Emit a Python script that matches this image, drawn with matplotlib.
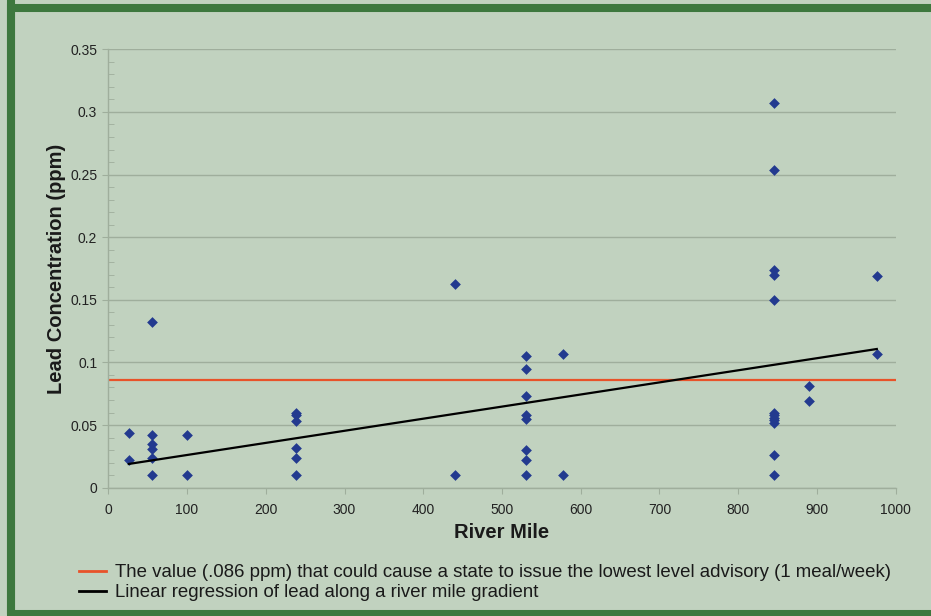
import matplotlib.pyplot as plt
import matplotlib.lines as mlines
from matplotlib.patches import Rectangle
from matplotlib.ticker import MultipleLocator

plt.rcParams['font.family'] = ['Liberation Sans', 'DejaVu Sans']

# sampled lead concentrations by river mile
river_mile = [26, 26,
              55, 55, 55, 55, 55, 55,
              100, 100,
              238, 238, 238, 238, 238, 238,
              440, 440,
              531, 531, 531, 531, 531, 531, 531, 531,
              578, 578,
              846, 846, 846, 846, 846, 846, 846, 846, 846, 846, 846, 846,
              890, 890,
              976, 976]
lead_ppm = [0.044, 0.022,
            0.132, 0.042, 0.035, 0.031, 0.024, 0.010,
            0.042, 0.010,
            0.060, 0.058, 0.053, 0.032, 0.024, 0.010,
            0.163, 0.010,
            0.105, 0.095, 0.073, 0.058, 0.055, 0.030, 0.022, 0.010,
            0.107, 0.010,
            0.307, 0.254, 0.174, 0.170, 0.150, 0.060, 0.058, 0.056, 0.054, 0.052, 0.026, 0.010,
            0.081, 0.069,
            0.169, 0.107]

advisory_ppm = 0.086
fit_slope = 9.66e-5
fit_intercept = 0.01645

advisory_label = 'The value (.086 ppm) that could cause a state to issue the lowest level advisory (1 meal/week)'
fit_label = 'Linear regression of lead along a river mile gradient'

bg = '#c1d2bf'
frame = '#3d783e'
grid_c = '#9fae9c'
point_c = '#233a8f'
red_c = '#e8532a'

fig = plt.figure(figsize=(9.31, 6.16), dpi=100, facecolor=bg)
W, H = 931, 616

# dark green frame, open on the right and bottom edges
fig.patches.append(Rectangle((11 / W, 0), 1.2, 1 - 8 / H, transform=fig.transFigure,
                             facecolor='none', edgecolor=frame, linewidth=5.8, zorder=0))
fig.patches.append(Rectangle((11 / W, 2 / H), 1.2, 1, transform=fig.transFigure,
                             facecolor='none', edgecolor=frame, linewidth=5.8, zorder=0))

ax = fig.add_axes([108.3 / W, 1 - 487.7 / H, (895.7 - 108.3) / W, (487.7 - 49.3) / H])
ax.set_facecolor(bg)

ax.scatter(river_mile, lead_ppm, marker='D', s=30, color=point_c, linewidths=0, zorder=3)
ax.axhline(advisory_ppm, color=red_c, linewidth=1.6, zorder=2)
x0, x1 = min(river_mile), max(river_mile)
ax.plot([x0, x1], [fit_intercept + fit_slope * x0, fit_intercept + fit_slope * x1],
        color='black', linewidth=1.6, zorder=4)

ax.set_xlim(0, 1000)
ax.set_ylim(0, 0.35)
ax.xaxis.set_major_locator(MultipleLocator(100))
ax.yaxis.set_minor_locator(MultipleLocator(0.01))
ax.set_yticks([0, 0.05, 0.1, 0.15, 0.2, 0.25, 0.3, 0.35],
              ['0', '0.05', '0.1', '0.15', '0.2', '0.25', '0.3', '0.35'])

ax.grid(True, axis='y', which='major', color=grid_c, linewidth=1)
ax.set_axisbelow(True)
for side in ['top', 'right']:
    ax.spines[side].set_visible(False)
for side in ['left', 'bottom']:
    ax.spines[side].set_color(grid_c)
    ax.spines[side].set_linewidth(1)

ax.tick_params(axis='both', which='major', direction='out', length=4, color=grid_c,
               labelsize=10, labelcolor='#222222', pad=4)
ax.tick_params(axis='x', which='major', pad=7)
ax.tick_params(axis='y', which='minor', direction='in', length=4, color=grid_c)
ax.tick_params(axis='x', which='minor', length=0)

ax.set_xlabel('River Mile', fontsize=14.5, fontweight='bold', color='#1a1a1a', labelpad=4)
ax.set_ylabel('Lead Concentration (ppm)', fontsize=14.5, fontweight='bold', color='#1a1a1a', labelpad=3)

handles = [mlines.Line2D([], [], color=red_c, linewidth=2),
           mlines.Line2D([], [], color='black', linewidth=2)]
fig.legend(handles, [advisory_label, fit_label], loc='upper left',
           bbox_to_anchor=(70 / W, 1 - 555 / H), frameon=False, fontsize=13.4,
           handlelength=1.45, handletextpad=0.45, labelspacing=0.15, borderpad=0,
           labelcolor='#1a1a1a')

fig.savefig('out.png', dpi=100, facecolor=bg)
